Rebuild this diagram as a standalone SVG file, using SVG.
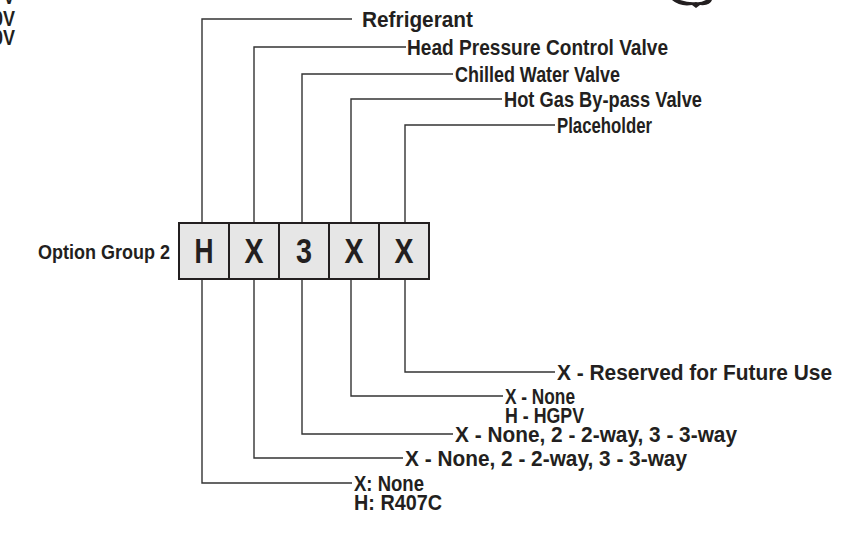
<svg xmlns="http://www.w3.org/2000/svg" width="842" height="546" viewBox="0 0 842 546">
<style>
.t{font-family:"Liberation Sans",Arial,sans-serif;font-weight:bold;font-size:22px;fill:#231f20}
.big{font-family:"Liberation Sans",Arial,sans-serif;font-weight:bold;font-size:35px;fill:#231f20;text-anchor:middle}
.cell{fill:#e6e6e6;stroke:#231f20;stroke-width:2}
.ln{fill:none;stroke:#333;stroke-width:1.4}
</style>
<rect width="842" height="546" fill="#fff"/>
<g id="fragments">
<text class="t" x="15" y="4" text-anchor="end" textLength="12" lengthAdjust="spacingAndGlyphs">V</text>
<text class="t" x="15" y="26" text-anchor="end" textLength="22" lengthAdjust="spacingAndGlyphs">0V</text>
<text class="t" x="15" y="45" text-anchor="end" textLength="22" lengthAdjust="spacingAndGlyphs">0V</text>
<path d="M672,0 Q680,7 692,5 L696,8 L700,5 Q710,6 712,0 L706,0 Q700,3 696,2 Q690,3 680,0 Z" fill="#231f20"/>
</g>
<g id="connectors">
<polyline class="ln" points="202,223 202,19 352,19"/>
<polyline class="ln" points="202,279 202,483 352,483"/>
<polyline class="ln" points="254,223 254,47 406,47"/>
<polyline class="ln" points="254,279 254,458 403,458"/>
<polyline class="ln" points="302,223 302,74 453,74"/>
<polyline class="ln" points="302,279 302,434 453,434"/>
<polyline class="ln" points="351,223 351,99 502,99"/>
<polyline class="ln" points="351,279 351,396 503,396"/>
<polyline class="ln" points="405,223 405,125 555,125"/>
<polyline class="ln" points="405,279 405,372 555,372"/>
</g>
<g id="option-group">
<text class="t" x="38" y="259" textLength="132" lengthAdjust="spacingAndGlyphs" style="font-size:21px">Option Group 2</text>
</g>
<g id="code-box">
<rect class="cell" x="179" y="223" width="50" height="56"/>
<rect class="cell" x="229" y="223" width="50" height="56"/>
<rect class="cell" x="279" y="223" width="50" height="56"/>
<rect class="cell" x="329" y="223" width="50" height="56"/>
<rect class="cell" x="379" y="223" width="50" height="56"/>
<text class="big" x="204" y="263" textLength="19" lengthAdjust="spacingAndGlyphs">H</text>
<text class="big" x="254" y="263" textLength="19" lengthAdjust="spacingAndGlyphs">X</text>
<text class="big" x="304" y="263" textLength="16" lengthAdjust="spacingAndGlyphs">3</text>
<text class="big" x="354" y="263" textLength="19" lengthAdjust="spacingAndGlyphs">X</text>
<text class="big" x="404" y="263" textLength="19" lengthAdjust="spacingAndGlyphs">X</text>
</g>
<g id="refrigerant"><text class="t" x="362" y="27" textLength="111" lengthAdjust="spacingAndGlyphs">Refrigerant</text></g>
<g id="head-pressure"><text class="t" x="407" y="55" textLength="261" lengthAdjust="spacingAndGlyphs">Head Pressure Control Valve</text></g>
<g id="chilled-water"><text class="t" x="455" y="82" textLength="165" lengthAdjust="spacingAndGlyphs">Chilled Water Valve</text></g>
<g id="hot-gas"><text class="t" x="504" y="107" textLength="198" lengthAdjust="spacingAndGlyphs">Hot Gas By-pass Valve</text></g>
<g id="placeholder"><text class="t" x="557" y="133" textLength="95" lengthAdjust="spacingAndGlyphs">Placeholder</text></g>
<g id="reserved"><text class="t" x="557" y="380" textLength="275" lengthAdjust="spacingAndGlyphs">X - Reserved for Future Use</text></g>
<g id="hgpv-options">
<text class="t" x="505" y="404" textLength="70" lengthAdjust="spacingAndGlyphs">X - None</text>
<text class="t" x="505" y="423" textLength="79" lengthAdjust="spacingAndGlyphs">H - HGPV</text>
</g>
<g id="chilled-options"><text class="t" x="455" y="442" textLength="282" lengthAdjust="spacingAndGlyphs">X - None, 2 - 2-way, 3 - 3-way</text></g>
<g id="head-options"><text class="t" x="405" y="466" textLength="282" lengthAdjust="spacingAndGlyphs">X - None, 2 - 2-way, 3 - 3-way</text></g>
<g id="refrigerant-options">
<text class="t" x="354" y="491" textLength="70" lengthAdjust="spacingAndGlyphs">X: None</text>
<text class="t" x="354" y="510" textLength="88" lengthAdjust="spacingAndGlyphs">H: R407C</text>
</g>
</svg>
